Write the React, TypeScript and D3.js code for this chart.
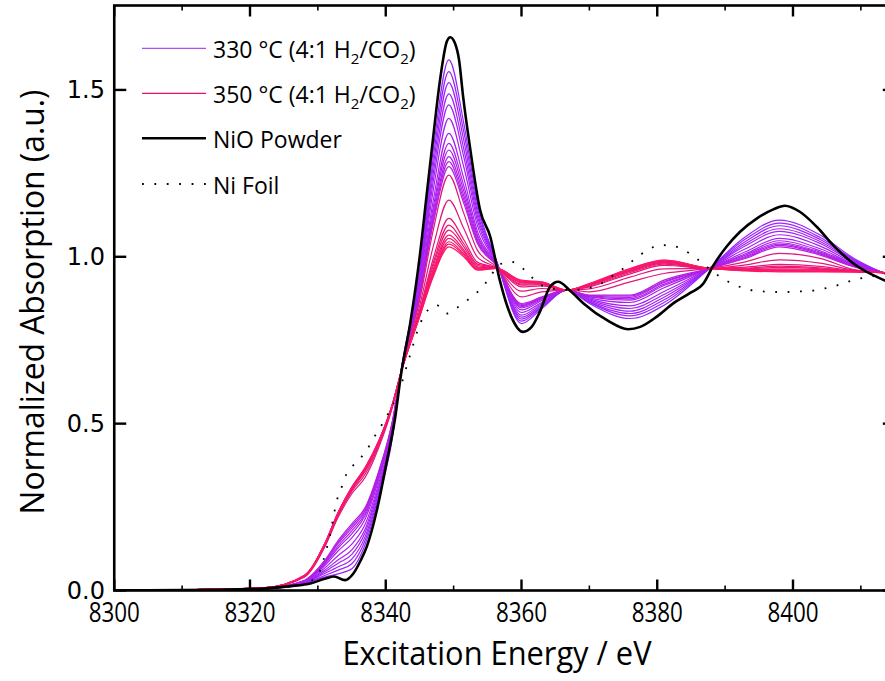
import React from 'react';
import * as d3 from 'd3';

// ---------- DATA ----------
const energyGrid = [8300, 8322, 8328, 8331, 8333, 8335, 8337, 8339, 8341, 8342.2, 8345, 8347, 8349.3, 8351.5, 8353.5, 8356.3, 8360, 8363, 8366.7, 8370, 8376, 8381, 8387.7, 8393, 8398, 8404, 8409, 8414];

// 330 °C scans (purple)
const scan330_01 = [0, .005, .02, .04, .05, .065, .14, .28, .46, .65, .96, 1.32, 1.59, 1.40, 1.16, .99, .80, .845, .90, .86, .815, .855, .965, 1.06, 1.11, 1.065, .995, .945];
const scan330_02 = [0, .005, .021, .045, .061, .080, .152, .289, .465, .65, .951, 1.296, 1.555, 1.374, 1.147, .988, .807, .849, .90, .863, .823, .863, .965, 1.053, 1.101, 1.058, .992, .946];
const scan330_03 = [0, .005, .022, .051, .071, .094, .163, .297, .471, .65, .943, 1.273, 1.522, 1.349, 1.134, .987, .813, .852, .90, .865, .830, .871, .965, 1.046, 1.093, 1.052, .990, .946];
const scan330_04 = [0, .005, .023, .056, .082, .108, .175, .306, .476, .65, .934, 1.250, 1.488, 1.323, 1.122, .985, .819, .856, .90, .868, .837, .879, .965, 1.039, 1.084, 1.046, .987, .947];
const scan330_05 = [0, .005, .024, .061, .092, .122, .186, .314, .481, .65, .926, 1.227, 1.455, 1.299, 1.109, .984, .825, .860, .90, .871, .845, .887, .965, 1.033, 1.076, 1.040, .984, .947];
const scan330_06 = [0, .006, .025, .067, .105, .139, .200, .324, .487, .65, .916, 1.200, 1.415, 1.269, 1.094, .982, .833, .864, .90, .874, .853, .896, .965, 1.024, 1.066, 1.032, .981, .948];
const scan330_07 = [0, .006, .027, .074, .119, .158, .216, .335, .494, .65, .905, 1.169, 1.370, 1.235, 1.077, .980, .841, .869, .90, .877, .863, .907, .965, 1.015, 1.055, 1.024, .978, .948];
const scan330_08 = [0, .006, .028, .079, .128, .170, .226, .342, .499, .65, .898, 1.148, 1.340, 1.213, 1.066, .978, .847, .872, .90, .880, .870, .914, .965, 1.009, 1.048, 1.018, .975, .949];
const scan330_09 = [0, .006, .028, .082, .134, .179, .233, .348, .502, .65, .892, 1.134, 1.320, 1.197, 1.059, .977, .851, .875, .90, .881, .874, .918, .965, 1.005, 1.042, 1.014, .974, .949];
const scan330_10 = [0, .006, .029, .085, .141, .187, .240, .352, .505, .65, .888, 1.121, 1.300, 1.183, 1.051, .976, .854, .877, .90, .883, .878, .923, .965, 1.001, 1.038, 1.011, .972, .950];
const scan330_11 = [0, .006, .030, .088, .145, .194, .245, .356, .508, .65, .884, 1.110, 1.285, 1.171, 1.046, .976, .857, .878, .90, .884, .882, .926, .965, .998, 1.034, 1.008, .971, .950];
const scan330_12 = [0, .006, .03, .09, .15, .20, .25, .36, .51, .65, .88, 1.10, 1.27, 1.16, 1.04, .975, .86, .88, .90, .885, .885, .93, .965, .995, 1.03, 1.005, .97, .95];

// 350 °C scans (pink)
const scan350_01 = [0, .007, .04, .13, .22, .29, .34, .43, .55, .65, .87, 1.08, 1.245, 1.13, 1.02, .97, .88, .895, .90, .895, .925, .95, .965, .985, 1.01, .995, .962, .952];
const scan350_02 = [0, .007, .042, .133, .225, .297, .350, .437, .553, .65, .853, 1.031, 1.170, 1.085, .999, .968, .897, .905, .90, .904, .939, .964, .965, .976, .991, .981, .960, .952];
const scan350_03 = [0, .008, .043, .136, .229, .302, .358, .442, .556, .65, .840, .995, 1.115, 1.051, .984, .967, .910, .913, .90, .910, .949, .974, .965, .969, .977, .971, .958, .952];
const scan350_04 = [0, .008, .043, .137, .230, .304, .361, .444, .557, .65, .835, .982, 1.095, 1.039, .978, .967, .915, .916, .90, .912, .953, .978, .965, .966, .972, .967, .957, .952];
const scan350_05 = [0, .008, .044, .138, .232, .305, .363, .445, .558, .65, .832, .973, 1.080, 1.030, .974, .966, .918, .918, .90, .914, .956, .981, .965, .964, .968, .964, .957, .952];
const scan350_06 = [0, .008, .044, .138, .233, .307, .365, .447, .558, .65, .828, .963, 1.065, 1.021, .970, .966, .922, .920, .90, .916, .958, .983, .965, .962, .964, .962, .956, .952];
const scan350_07 = [0, .008, .044, .139, .233, .308, .367, .448, .559, .65, .826, .956, 1.055, 1.015, .967, .966, .924, .922, .90, .917, .960, .985, .965, .961, .961, .960, .956, .952];
const scan350_08 = [0, .008, .045, .139, .234, .309, .368, .449, .559, .65, .824, .950, 1.045, 1.009, .964, .965, .927, .923, .90, .918, .962, .987, .965, .960, .959, .958, .955, .952];
const scan350_09 = [0, .008, .045, .140, .234, .309, .369, .449, .560, .65, .822, .945, 1.038, 1.005, .962, .965, .928, .924, .90, .919, .964, .989, .965, .959, .957, .956, .955, .952];
const scan350_10 = [0, .008, .045, .14, .235, .31, .37, .45, .56, .65, .82, .94, 1.03, 1.00, .96, .965, .93, .925, .90, .92, .965, .99, .965, .958, .955, .955, .955, .952];

const scans330 = [scan330_01, scan330_02, scan330_03, scan330_04, scan330_05, scan330_06, scan330_07, scan330_08, scan330_09, scan330_10, scan330_11, scan330_12];
const scans350 = [scan350_01, scan350_02, scan350_03, scan350_04, scan350_05, scan350_06, scan350_07, scan350_08, scan350_09, scan350_10];

// NiO powder reference
const nioEnergy = [8300, 8315, 8322, 8326, 8329, 8331, 8332.4, 8334, 8335.2, 8336.3, 8337.2, 8338.7, 8340.1, 8341.4, 8342.2, 8343.6, 8345, 8346, 8347, 8348, 8349, 8349.5, 8350.2, 8350.8, 8351.4, 8352.4, 8353.9, 8355.4, 8356.8, 8358.5, 8360.2, 8361.5, 8362.7, 8364.2, 8365.4, 8367.1, 8369.1, 8372.6, 8375.7, 8377.5, 8379.9, 8382.4, 8384.8, 8386.8, 8388.3, 8390.2, 8392.2, 8394.7, 8397.1, 8398.8, 8401, 8403.5, 8405.9, 8408.9, 8411.3, 8414];
const nioValue = [0, .002, .006, .013, .022, .035, .042, .031, .05, .09, .131, .241, .381, .52, .64, .80, 1.0, 1.18, 1.36, 1.53, 1.645, 1.658, 1.64, 1.59, 1.48, 1.33, 1.14, 1.06, .93, .82, .775, .79, .835, .91, .925, .90, .861, .81, .783, .79, .82, .861, .891, .92, .975, 1.03, 1.075, 1.115, 1.142, 1.153, 1.135, 1.09, 1.035, .98, .95, .925];

// Ni foil reference
const niEnergy = [8300, 8320, 8325, 8327, 8328.4, 8330.1, 8330.8, 8331.3, 8331.8, 8332.2, 8332.8, 8333.5, 8334.2, 8335.7, 8337.2, 8338.2, 8339.4, 8340.4, 8342, 8343.5, 8345, 8345.8, 8347.5, 8349, 8350.7, 8352.4, 8354.1, 8355.4, 8356.6, 8358.5, 8360.5, 8362.5, 8364.5, 8367.6, 8369.6, 8371.3, 8373, 8375, 8376.8, 8378.6, 8380.4, 8382.2, 8384.1, 8385.9, 8387.8, 8389.5, 8391.3, 8393.2, 8395, 8396.9, 8398.6, 8400.4, 8402.3, 8404.1, 8405.8, 8407.6, 8409.4, 8411.3, 8414];
const niValue = [0, .003, .01, .015, .023, .05, .09, .126, .166, .21, .27, .309, .349, .384, .421, .456, .496, .531, .6, .7, .796, .83, .855, .83, .85, .876, .906, .94, .975, .985, .96, .92, .905, .90, .905, .915, .937, .965, .995, 1.02, 1.035, 1.033, 1.018, .993, .962, .937, .917, .903, .897, .895, .894, .896, .897, .903, .91, .922, .933, .94, .95];

const xMajorTicks = [8300, 8320, 8340, 8360, 8380, 8400];
const xMinorTicks = [8310, 8330, 8350, 8370, 8390, 8410];
const yMajorTicks = [0, 0.5, 1.0, 1.5];

const legendLabels = ['330 °C (4:1 H', '350 °C (4:1 H', 'NiO Powder', 'Ni Foil'];

// ---------- STYLE ----------
const purpleStart = '#9a24ff';
const purpleEnd = '#b61ee2';
const pinkStart = '#e0187e';
const pinkEnd = '#ff1766';

const FRAME = { left: 114.25, right: 894.8, top: 5.5, bottom: 590.5 };

export default function App() {
  const x = d3.scaleLinear().domain([8300, 8415]).range([FRAME.left, FRAME.right]);
  const y = d3.scaleLinear().domain([0, 1.753]).range([FRAME.bottom, FRAME.top]);

  const line = d3
    .line<[number, number]>()
    .x((d) => x(d[0]))
    .y((d) => y(d[1]))
    .curve(d3.curveMonotoneX);

  const zip = (es: number[], vs: number[]) => es.map((e, i) => [e, vs[i]] as [number, number]);

  const purpleColor = d3.interpolateRgb(purpleStart, purpleEnd);
  const pinkColor = d3.interpolateRgb(pinkStart, pinkEnd);

  const font = "'Open Sans', 'Noto Sans', sans-serif";

  const legendY = [48.3, 93.3, 138.3, 184];

  return (
    <svg
      width={885}
      height={681}
      style={{ position: 'absolute', left: 0, top: 0, background: '#fff' }}
    >
      <defs>
        <clipPath id="plotClip">
          <rect x={FRAME.left} y={FRAME.top} width={FRAME.right - FRAME.left} height={FRAME.bottom - FRAME.top} />
        </clipPath>
      </defs>
      <rect x={0} y={0} width={885} height={681} fill="#fff" />

      <g clipPath="url(#plotClip)">
        {scans330.map((s, i) => (
          <path
            key={'p' + i}
            d={line(zip(energyGrid, s)) || ''}
            fill="none"
            stroke={purpleColor(i / (scans330.length - 1))}
            strokeWidth={1.2}
          />
        ))}
        {scans350.map((s, i) => (
          <path
            key={'k' + i}
            d={line(zip(energyGrid, s)) || ''}
            fill="none"
            stroke={pinkColor(i / (scans350.length - 1))}
            strokeWidth={1.2}
          />
        ))}
        <path
          d={line(zip(niEnergy, niValue)) || ''}
          fill="none"
          stroke="#000"
          strokeWidth={1.8}
          strokeDasharray="1.8 10.6"
        />
        <path d={line(zip(nioEnergy, nioValue)) || ''} fill="none" stroke="#000" strokeWidth={2.6} />
      </g>

      {/* frame */}
      <rect
        x={FRAME.left}
        y={FRAME.top}
        width={FRAME.right - FRAME.left}
        height={FRAME.bottom - FRAME.top}
        fill="none"
        stroke="#000"
        strokeWidth={2.6}
      />

      {/* ticks */}
      {xMajorTicks.map((t) => (
        <g key={'xt' + t}>
          <line x1={x(t)} x2={x(t)} y1={FRAME.bottom} y2={FRAME.bottom - 11} stroke="#000" strokeWidth={2.4} />
          <line x1={x(t)} x2={x(t)} y1={FRAME.top} y2={FRAME.top + 11} stroke="#000" strokeWidth={2.4} />
        </g>
      ))}
      {xMinorTicks.map((t) => (
        <g key={'xm' + t}>
          <line x1={x(t)} x2={x(t)} y1={FRAME.bottom} y2={FRAME.bottom - 5} stroke="#000" strokeWidth={1.6} />
          <line x1={x(t)} x2={x(t)} y1={FRAME.top} y2={FRAME.top + 5} stroke="#000" strokeWidth={1.6} />
        </g>
      ))}
      {yMajorTicks.map((t) => (
        <g key={'yt' + t}>
          <line x1={FRAME.left} x2={FRAME.left + 12} y1={y(t)} y2={y(t)} stroke="#000" strokeWidth={2.4} />
          <line x1={FRAME.right} x2={FRAME.right - 12} y1={y(t)} y2={y(t)} stroke="#000" strokeWidth={2.4} />
        </g>
      ))}

      {/* tick labels */}
      {xMajorTicks.map((t) => (
        <text
          key={'xl' + t}
          transform={`translate(${x(t)},${622}) scale(0.8,1)`}
          textAnchor="middle"
          fontFamily={font}
          fontSize={28}
          fill="#000"
        >
          {t}
        </text>
      ))}
      {yMajorTicks.map((t) => (
        <text
          key={'yl' + t}
          x={105}
          y={y(t) + 8.5}
          textAnchor="end"
          fontFamily="'DejaVu Sans', sans-serif"
          fontSize={24}
          fill="#000"
        >
          {t.toFixed(1)}
        </text>
      ))}

      {/* axis titles */}
      <text
        x={497}
        y={665}
        textAnchor="middle"
        fontFamily={font}
        fontSize={33}
        textLength={309}
        lengthAdjust="spacingAndGlyphs"
        fill="#000"
      >
        Excitation Energy / eV
      </text>
      <text
        transform={`translate(44,302) rotate(-90)`}
        textAnchor="middle"
        fontFamily={font}
        fontSize={33}
        textLength={425}
        lengthAdjust="spacingAndGlyphs"
        fill="#000"
      >
        Normalized Absorption (a.u.)
      </text>

      {/* legend */}
      <g fontFamily={font} fontSize={23} fill="#000">
        <line x1={142} x2={206} y1={legendY[0]} y2={legendY[0]} stroke="#b44af2" strokeWidth={1.3} />
        <text x={213} y={legendY[0] + 9.5}>
          {legendLabels[0]}
          <tspan fontSize={15} dy={6}>2</tspan>
          <tspan dy={-6}>/CO</tspan>
          <tspan fontSize={15} dy={6}>2</tspan>
          <tspan dy={-6}>)</tspan>
        </text>
        <line x1={142} x2={206} y1={legendY[1]} y2={legendY[1]} stroke="#e0126c" strokeWidth={1.3} />
        <text x={213} y={legendY[1] + 9.5}>
          {legendLabels[1]}
          <tspan fontSize={15} dy={6}>2</tspan>
          <tspan dy={-6}>/CO</tspan>
          <tspan fontSize={15} dy={6}>2</tspan>
          <tspan dy={-6}>)</tspan>
        </text>
        <line x1={142} x2={206} y1={legendY[2]} y2={legendY[2]} stroke="#000" strokeWidth={2.6} />
        <text x={213} y={legendY[2] + 9.5}>{legendLabels[2]}</text>
        <line
          x1={142}
          x2={206}
          y1={legendY[3]}
          y2={legendY[3]}
          stroke="#000"
          strokeWidth={1.8}
          strokeDasharray="1.8 10.6"
        />
        <text x={213} y={legendY[3] + 9.5}>{legendLabels[3]}</text>
      </g>
    </svg>
  );
}
